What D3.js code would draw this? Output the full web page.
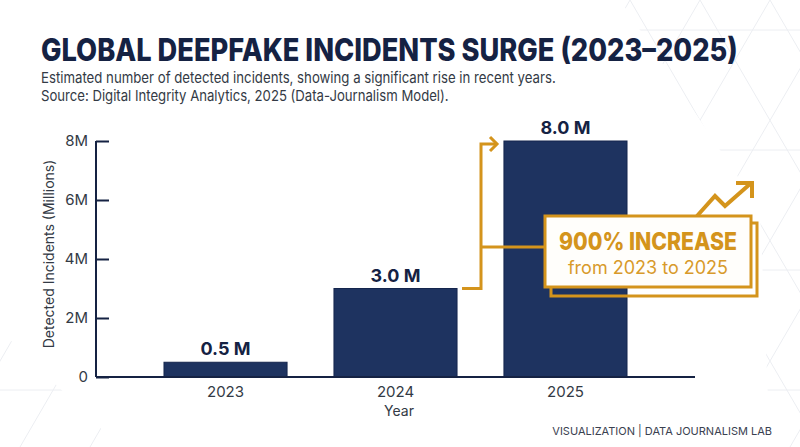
<!DOCTYPE html>
<html><head><meta charset="utf-8">
<script src="https://cdn.jsdelivr.net/npm/d3@7"></script>
<style>
html,body{margin:0;padding:0;background:#fff;}
svg{display:block;font-family:Inter,"Noto Sans",sans-serif;}
</style></head>
<body><svg id="c" width="800" height="447"></svg>
<script>
const years = ["2023","2024","2025"];
const incidents = [0.5, 3.0, 8.0];
const valueLabels = ["0.5 M","3.0 M","8.0 M"];
const yTicks = [0,2,4,6,8];
const yTickLabels = ["0","2M","4M","6M","8M"];
const titleText = "GLOBAL DEEPFAKE INCIDENTS SURGE (2023\u20132025)";
const subtitleLines = ["Estimated number of detected incidents, showing a significant rise in recent years.",
  "Source: Digital Integrity Analytics, 2025 (Data-Journalism Model)."];
const calloutMain = "900% INCREASE";
const calloutSub = "from 2023 to 2025";

const navy = "#1e3360", ink = "#152243", gold = "#d4941c", grey = "#333a45";
const svg = d3.select("#c");

// faint background lattice
const bg = svg.append("g").attr("stroke","#eceef2").attr("stroke-width",1).attr("fill","none");
const latt = [];
for (let i=-6;i<12;i++){ latt.push([[560+i*70,0],[560+i*70+260,447]]); latt.push([[560+i*70,0],[560+i*70-260,447]]); }
svg.append("clipPath").attr("id","cr").append("path").attr("d","M620,0 L800,0 L800,447 L770,447 L760,210 Z");
svg.append("clipPath").attr("id","cl").append("path").attr("d","M0,330 L120,447 L0,447 Z");
["cr","cl"].forEach(id=>{
  const g = bg.append("g").attr("clip-path",`url(#${id})`);
  latt.forEach(l=>g.append("line").attr("x1",l[0][0]).attr("y1",l[0][1]).attr("x2",l[1][0]).attr("y2",l[1][1]));
  for(let yy=30;yy<447;yy+=120) g.append("line").attr("x1",0).attr("x2",800).attr("y1",yy).attr("y2",yy);
});

// titles
const fitText = (sel, w) => { const n = sel.node().getComputedTextLength(); const x0 = +sel.attr("x");
  sel.attr("transform",`translate(${x0},0) scale(${w/n},1) translate(${-x0},0)`); };
const t = svg.append("text").attr("x",41).attr("y",61).attr("fill",ink).attr("font-weight",800)
  .attr("font-size",31).text(titleText);
fitText(t, 697);
const s1 = svg.append("text").attr("x",41).attr("y",83).attr("fill",grey).attr("font-size",15).text(subtitleLines[0]);
fitText(s1, 515);
const s2 = svg.append("text").attr("x",41).attr("y",101).attr("fill",grey).attr("font-size",15).text(subtitleLines[1]);
fitText(s2, 408);

// scales
const x = d3.scaleBand().domain(years).range([96,695]).paddingInner(0.276).paddingOuter(0.4);
const y = d3.scaleLinear().domain([0,8]).range([377,141]);

// bars
svg.append("g").selectAll("rect").data(years).join("rect")
  .attr("x",d=>x(d)).attr("width",x.bandwidth())
  .attr("y",(d,i)=>y(incidents[i])).attr("height",(d,i)=>y(0)-y(incidents[i]))
  .attr("fill",navy).attr("stroke","#14254d").attr("stroke-width",1);

// value labels
svg.append("g").selectAll("text").data(years).join("text")
  .attr("x",d=>x(d)+x.bandwidth()/2).attr("y",(d,i)=>y(incidents[i])-7)
  .attr("text-anchor","middle").attr("font-weight",700).attr("font-size",18).attr("fill",ink)
  .text((d,i)=>valueLabels[i]);

// y axis
const yAxis = d3.axisRight(y).tickValues(yTicks).tickSize(13).tickFormat((d,i)=>yTickLabels[i]);
const ya = svg.append("g").attr("transform","translate(96,0)").call(yAxis);
ya.select(".domain").attr("stroke",ink).attr("stroke-width",2).attr("d","M0,141V377");
ya.selectAll(".tick line").attr("stroke",ink).attr("stroke-width",2);
ya.selectAll(".tick text").attr("x",-8).attr("text-anchor","end").attr("font-size",15)
  .attr("fill",grey).attr("font-family","Inter,sans-serif");

// x axis
const xAxis = d3.axisBottom(x).tickSize(0).tickPadding(9);
const xa = svg.append("g").attr("transform","translate(0,377)").call(xAxis);
xa.select(".domain").attr("stroke",ink).attr("stroke-width",2).attr("d","M96,0H695");
xa.selectAll(".tick text").attr("font-size",15).attr("fill",grey).attr("font-family","Inter,sans-serif");

// axis titles
svg.append("text").attr("transform","translate(54,254) rotate(-90)").attr("text-anchor","middle")
  .attr("font-size",14).attr("fill",grey).text("Detected Incidents (Millions)");
svg.append("text").attr("x",399).attr("y",416).attr("text-anchor","middle")
  .attr("font-size",14).attr("fill",grey).text("Year");

// annotation bracket
const xa24 = x("2024")+x.bandwidth(), yTop = y(8), y24 = y(3);
const ann = svg.append("g").attr("fill","none").attr("stroke",gold).attr("stroke-width",3);
ann.append("path").attr("d",`M${xa24+5},${y24}H481V${yTop+3}H497`);
ann.append("path").attr("d",`M490,${yTop-4}L497,${yTop+3}L490,${yTop+10}`);
ann.append("path").attr("d",`M481,247H545`);
// zigzag trend arrow
ann.append("path").attr("stroke-width",4).attr("d","M697,216L715,196L725,206L750,184");
ann.append("path").attr("stroke-width",4).attr("d","M736,183H752V198");

// callout boxes
svg.append("rect").attr("x",551).attr("y",223).attr("width",206).attr("height",73)
  .attr("fill","none").attr("stroke",gold).attr("stroke-width",3);
svg.append("rect").attr("x",545).attr("y",216).attr("width",206).attr("height",71)
  .attr("fill","#fffefb").attr("stroke",gold).attr("stroke-width",3);
const cm = svg.append("text").attr("x",559).attr("y",250).attr("font-weight",800)
  .attr("font-size",24).attr("fill",gold).text(calloutMain);
fitText(cm, 178);
svg.append("text").attr("x",648).attr("y",274).attr("text-anchor","middle")
  .attr("font-size",18).attr("fill","#d89a2a").text(calloutSub);

// footer
svg.append("text").attr("x",772).attr("y",435).attr("text-anchor","end").attr("font-size",11)
  .attr("fill","#3a4150").text("VISUALIZATION | DATA JOURNALISM LAB");
</script></body></html>
